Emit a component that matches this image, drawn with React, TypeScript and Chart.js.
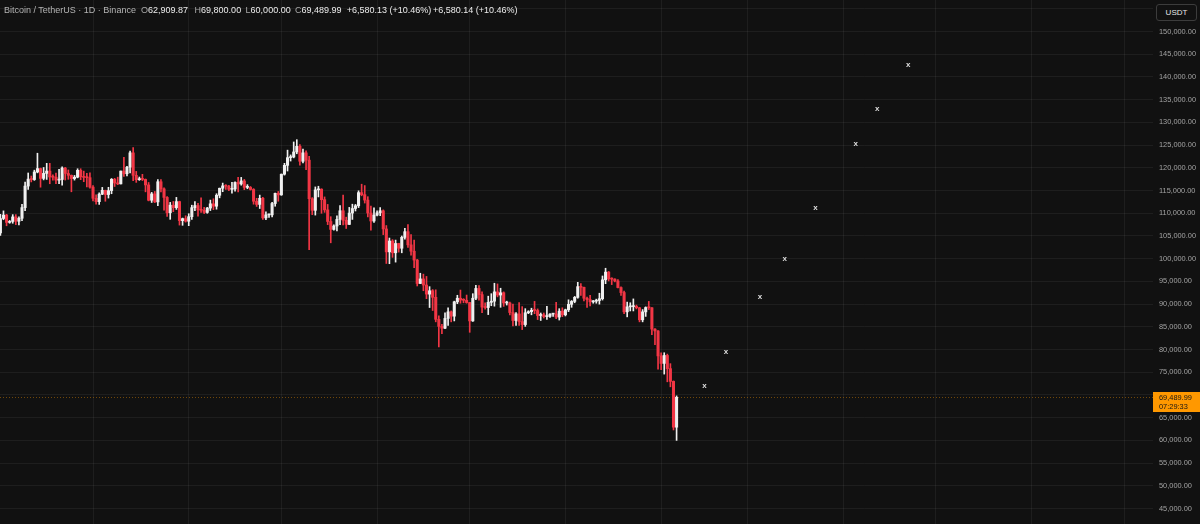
import React, { useEffect, useRef } from 'react';
import { Chart, registerables } from 'chart.js';

Chart.register(...registerables);

// ---- data (daily candles, BTC/USDT, from 2025-07-01) ----
const firstDay = '2025-07-01';

const opens = [
  107135,105681,108850,109600,107990,108200,109200,108250,108900,111250,115990,117520,117420,119090,119840,117680,118780,119290,117990,117940,117300,117440,119960,118760,118360,117640,117940,119450,118050,117900,117840,
  115760,113300,112560,114210,115050,114120,114990,117480,116660,116470,119290,118700,120150,123300,118360,117400,117480,117450,116240,112870,114270,112500,116940,115370,113490,110110,111780,111240,112570,108380,108820,
  108250,109250,111240,111700,110730,110660,110190,111150,112080,111550,113960,115510,116030,115950,115270,115350,116790,116450,117120,115700,115700,115250,112650,111950,113300,108980,109650,109650,112150,114400,
  114050,118600,120550,122250,122400,123500,124750,121450,123300,121700,113200,110650,115150,115300,113000,110750,108200,106450,107200,108650,110550,108450,107550,110050,111050,111650,114550,114100,112900,110050,108300,
  109600,110100,110550,106550,101500,103900,101300,103350,102300,104700,105950,103050,101650,99700,94550,95550,94200,92200,92950,91500,86650,85100,84700,86850,88300,87350,90500,91300,90900,90850,
  90350,86300,91300,93450,92100,89350,89250,90400,90650,92700,92000,92500,90250,90250,88150,86400,87850,86150,85500,88100,88350,88650,88600,87500,87650,87250,87300,87800,87850,87150,88450,
  87650,88750,89950,90600,91500,93850,93700,91300,91000,90500,90650,90800,91200,95350,97050,95550,95500,95100,93650,92550,88300,89400,89450,89500,89200,86550,88300,89250,89200,84500,84100,
  78600,76950,78700,75800,73000,62909.87,
];

const highs = [
  107540,109750,110530,109770,108420,109700,109700,109200,111990,116870,118870,118200,119490,123220,119950,120080,120990,120990,118450,118860,119680,120250,120100,119540,118440,118330,119800,119800,119280,118780,118900,
  116100,114050,114500,115700,115100,115720,117650,117700,117950,119300,122330,120320,123680,124470,119220,117980,118570,117550,116780,114600,114800,117400,117400,115600,113650,112400,112600,113500,112670,108950,109450,
  109900,111780,112580,112200,113390,111300,111300,112900,113200,114300,115550,116650,116300,116150,116800,116950,117900,117900,117450,116300,115900,115430,113300,114000,113500,110300,109800,112400,114450,114800,
  118650,121000,123900,122850,125700,126200,125150,124150,123750,122550,113450,115800,115950,115400,113600,111950,109250,107450,109450,111700,114000,109150,111300,112000,111950,114950,116400,116100,113650,111600,111200,
  110550,111250,110750,107300,104550,104200,104100,103400,105000,106700,107500,105300,104100,99850,96800,96600,96100,93850,93200,93150,87450,85550,88100,89200,88500,90650,91950,93100,91200,92000,
  90400,92300,94150,94100,92700,90300,91750,92300,94600,94450,93500,92700,90650,90450,90000,88150,90350,89450,89000,88550,89100,90600,88950,88050,88050,89500,87900,88000,90400,89000,89200,
  88900,90950,90800,91700,94800,94500,93750,91550,91950,90800,91100,92400,96200,97900,97200,95800,95600,95400,93800,92850,90450,90300,91150,89800,89300,88800,89400,90600,89250,84600,84200,
  79300,79300,79000,76900,73100,69800,
];

const lows = [
  105250,105100,108580,107250,107800,107800,107500,107450,108350,110600,115250,116900,117250,118900,115740,117350,117450,116500,117280,116500,116520,116180,117320,117480,114730,117300,117800,117400,116950,115800,115500,
  112720,112000,111950,114100,112650,113350,114300,115900,116300,116450,118100,118200,118900,117180,116800,117250,117200,114720,112730,112380,112350,111700,114700,110700,109300,108670,110350,110850,107400,107350,108050,
  107270,108650,110550,109350,110200,109930,110000,110600,110800,110900,113400,114750,115250,115000,114400,114850,114700,116180,115200,115400,115100,112000,111500,111050,108650,108620,109100,109200,111550,112650,
  113950,118400,119300,121500,122200,123100,120600,121100,119600,102000,109700,109600,113600,110000,110200,107500,103500,106300,106100,107500,107450,106650,107500,108650,110500,111250,113850,112250,109200,106300,108000,
  109400,109500,105300,98950,98900,100300,99250,101450,101300,104300,102500,100800,98000,94000,94500,92950,91200,89250,88600,86100,80600,83500,84600,85300,86100,86300,90100,90200,90300,90200,
  83800,86200,91000,90900,88100,88900,87700,89650,89550,91600,89300,89500,89800,87600,85200,85300,85300,84400,85100,87900,87650,87900,86600,86400,86950,86650,87100,87300,86800,86500,87250,
  87400,88350,89300,90300,91300,91900,90700,89300,89600,90200,90200,90000,90900,94500,95100,94300,94900,93550,91900,87900,87200,88500,88500,88950,86100,86100,87300,88800,83300,81050,75700,
  75600,74600,72900,71800,62300,60000,
];

const closes = [
  105681,108850,109600,107990,108200,109200,108250,108900,111250,115990,117520,117420,119090,119840,117680,118780,119290,117990,117940,117300,117440,119960,118760,118360,117640,117940,119450,118050,117900,117840,115760,
  113300,112560,114210,115050,114120,114990,117480,116660,116470,119290,118700,120150,123300,118360,117400,117480,117450,116240,112870,114270,112500,116940,115370,113490,110110,111780,111240,112570,108380,108820,108250,
  109250,111240,111700,110730,110660,110190,111150,112080,111550,113960,115510,116030,115950,115270,115350,116790,116450,117120,115700,115700,115250,112650,111950,113300,108980,109650,109650,112150,114400,114050,
  118600,120550,122250,122400,123500,124750,121450,123300,121700,113200,110650,115150,115300,113000,110750,108200,106450,107200,108650,110550,108450,107550,110050,111050,111650,114550,114100,112900,110050,108300,109600,
  110100,110550,106550,101500,103900,101300,103350,102300,104700,105950,103050,101650,99700,94550,95550,94200,92200,92950,91500,86650,85100,84700,86850,88300,87350,90500,91300,90900,90850,90350,
  86300,91300,93450,92100,89350,89250,90400,90650,92700,92000,92500,90250,90250,88150,86400,87850,86150,85500,88100,88350,88650,88600,87500,87650,87250,87300,87800,87850,87150,88450,87650,
  88750,89950,90600,91500,93850,93700,91300,91000,90500,90650,90800,91200,95350,97050,95550,95500,95100,93650,92550,88300,89400,89450,89500,89200,86550,88300,89250,89200,84500,84100,78600,
  76950,78700,75800,73000,62909.87,69489.99,
];

// projected "x" marks
const projectionDates = ['2026-02-15', '2026-02-22', '2026-03-05', '2026-03-13', '2026-03-23', '2026-04-05', '2026-04-12', '2026-04-22'];
const projectionValues = [71900, 79400, 91500, 99900, 111100, 125200, 132900, 142600];

// vertical grid (month starts)
const monthStarts = ['2025-08-01', '2025-09-01', '2025-10-01', '2025-11-01', '2025-12-01', '2026-01-01', '2026-02-01', '2026-03-01', '2026-04-01', '2026-05-01', '2026-06-01', '2026-07-01'];

// price axis tick labels
const priceTicks = [155000, 150000, 145000, 140000, 135000, 130000, 125000, 120000, 115000, 110000, 105000, 100000, 95000, 90000, 85000, 80000, 75000, 70000, 65000, 60000, 55000, 50000, 45000];

// header texts
const titleText = 'Bitcoin / TetherUS · 1D · Binance';
const changeText1 = '+6,580.13 (+10.46%)';
const changeText2 = '+6,580.14 (+10.46%)';
const countdownText = '07:29:33';
const quoteCurrency = 'USDT';

// view window (day indexes) and price range
const xMin = 0.874;
const xMax = 374.3;
const yMin = 41600;
const yMax = 156950;

const BG = '#111111';
const GRID = 'rgba(255,255,255,0.055)';
const UP = '#f0f0f0';
const DOWN = '#f23645';
const FONT = '"Liberation Sans", Arial, sans-serif';

const dayIndex = (d: string) =>
  (Date.parse(d + 'T00:00:00Z') - Date.parse(firstDay + 'T00:00:00Z')) / 86400000;

const fmt = (v: number) =>
  v.toLocaleString('en-US', { minimumFractionDigits: 2, maximumFractionDigits: 2 });

export default function App() {
  const ref = useRef<HTMLCanvasElement>(null);

  useEffect(() => {
    document.body.style.margin = '0';
    document.body.style.background = BG;
    const last = closes.length - 1;
    const bodies = opens.map((o, i) => ({ x: i, y: [o, closes[i]] }));
    const wicks = lows.map((l, i) => ({ x: i, y: [l, highs[i]] }));
    const colorOf = (c: any) => (closes[c.dataIndex] >= opens[c.dataIndex] ? UP : DOWN);

    const overlay = {
      id: 'overlay',
      beforeDatasetsDraw(chart: any) {
        const { ctx, chartArea, scales } = chart;
        const yy = Math.round(scales.y.getPixelForValue(closes[last])) + 0.5;
        ctx.save();
        ctx.strokeStyle = 'rgba(255,152,0,0.4)';
        ctx.setLineDash([1, 2]);
        ctx.lineWidth = 1;
        ctx.beginPath();
        ctx.moveTo(chartArea.left, yy);
        ctx.lineTo(chartArea.right, yy);
        ctx.stroke();
        ctx.restore();
      },
      afterDraw(chart: any) {
        const { ctx, chartArea, scales } = chart;
        ctx.save();
        ctx.fillStyle = '#dedede';
        ctx.font = `bold 8px ${FONT}`;
        ctx.textAlign = 'center';
        ctx.textBaseline = 'alphabetic';
        projectionDates.forEach((d, k) => {
          const px = scales.x.getPixelForValue(dayIndex(d));
          const py = scales.y.getPixelForValue(projectionValues[k]);
          ctx.fillText('x', px, py + 2.1);
        });
        // last price label
        const py = scales.y.getPixelForValue(closes[last]);
        const bx = chartArea.right;
        const by = Math.round(py - 5);
        ctx.fillStyle = '#ff9800';
        ctx.fillRect(bx, by, chart.width - bx, 20);
        ctx.fillStyle = '#151515';
        ctx.font = `7.4px ${FONT}`;
        ctx.textAlign = 'left';
        ctx.textBaseline = 'middle';
        ctx.fillText(fmt(closes[last]), bx + 6, by + 5.5);
        ctx.fillText(countdownText, bx + 6, by + 14.5);
        ctx.restore();
      },
    };

    const chart = new Chart(ref.current as HTMLCanvasElement, {
      type: 'bar',
      data: {
        datasets: [
          { data: wicks as any, backgroundColor: colorOf as any, barThickness: 1, grouped: false, order: 2 } as any,
          { data: bodies as any, backgroundColor: colorOf as any, barThickness: 2.4, minBarLength: 1, grouped: false, order: 1 } as any,
        ],
      },
      options: {
        animation: false,
        responsive: false,
        maintainAspectRatio: false,
        layout: { padding: 0 },
        plugins: { legend: { display: false }, tooltip: { enabled: false } },
        scales: {
          x: {
            type: 'linear',
            min: xMin,
            max: xMax,
            offset: false,
            grid: { color: GRID, drawTicks: false, offset: false } as any,
            border: { display: false },
            ticks: { display: false },
            afterBuildTicks: (s: any) => {
              s.ticks = monthStarts.map((d) => ({ value: dayIndex(d) }));
            },
            afterFit: (s: any) => {
              s.height = 0;
              s.paddingLeft = 0;
              s.paddingRight = 0;
            },
          },
          y: {
            type: 'linear',
            position: 'right',
            min: yMin,
            max: yMax,
            beginAtZero: false,
            grid: { color: GRID, drawTicks: false },
            border: { display: false },
            ticks: {
              autoSkip: false,
              padding: 6,
              color: '#a3a3a3',
              font: { family: FONT, size: 7.4 },
              callback: (v: any) => fmt(Number(v)),
            },
            afterBuildTicks: (s: any) => {
              s.ticks = priceTicks.map((v) => ({ value: v }));
            },
            afterFit: (s: any) => {
              s.width = 47;
              s.paddingTop = 0;
              s.paddingBottom = 0;
            },
          },
        },
      } as any,
      plugins: [overlay],
    });
    return () => chart.destroy();
  }, []);

  const last = closes.length - 1;
  const gray = '#a8a8a8';
  const white = '#ececec';
  const seg = (left: number, label: string, value: string) => (
    <span style={{ position: 'absolute', left, top: 0, whiteSpace: 'nowrap' }}>
      <span style={{ color: gray }}>{label}</span>
      <span style={{ color: white }}>{value}</span>
    </span>
  );

  return (
    <div style={{ position: 'absolute', left: 0, top: 0, width: 1200, height: 524, background: BG, overflow: 'hidden' }}>
      <canvas ref={ref} width={1200} height={524} style={{ display: 'block' }} />
      <div style={{ position: 'absolute', left: 0, top: 5, height: 10, fontFamily: FONT, fontSize: 9, lineHeight: '10px' }}>
        <span style={{ position: 'absolute', left: 4, top: 0, whiteSpace: 'nowrap', color: '#b4b4b4' }}>{titleText}</span>
        {seg(141, 'O', fmt(opens[last]))}
        {seg(194.6, 'H', fmt(highs[last]))}
        {seg(245.6, 'L', fmt(lows[last]))}
        {seg(295, 'C', fmt(closes[last]))}
        <span style={{ position: 'absolute', left: 346.7, top: 0, whiteSpace: 'nowrap', color: white }}>{changeText1}</span>
        <span style={{ position: 'absolute', left: 433, top: 0, whiteSpace: 'nowrap', color: white }}>{changeText2}</span>
      </div>
      <div
        style={{
          position: 'absolute', left: 1156, top: 4, width: 41, height: 17, boxSizing: 'border-box',
          border: '1px solid #3c3c3c', borderRadius: 3, color: '#e6e6e6', fontFamily: FONT, fontSize: 8,
          display: 'flex', alignItems: 'center', justifyContent: 'center', background: BG,
        }}
      >
        {quoteCurrency}
      </div>
    </div>
  );
}
